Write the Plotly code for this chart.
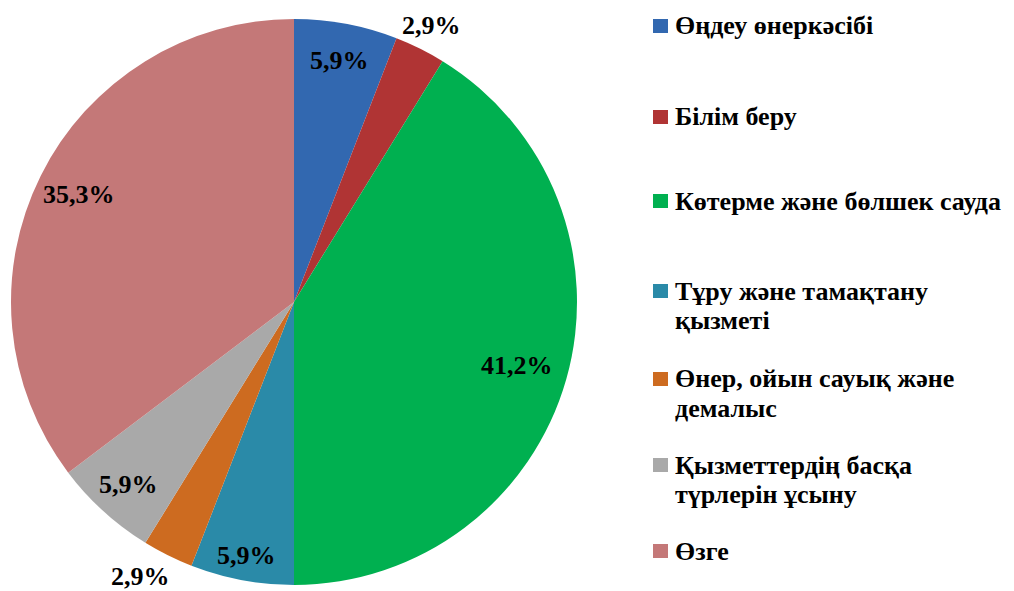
import math
import plotly.graph_objects as go

labels = ["Өңдеу өнеркәсібі", "Білім беру", "Көтерме және бөлшек сауда",
          "Тұру және тамақтану қызметі", "Өнер, ойын сауық және демалыс",
          "Қызметтердің басқа түрлерін ұсыну", "Өзге"]
legend_lines = [["Өңдеу өнеркәсібі"], ["Білім беру"], ["Көтерме және бөлшек сауда"],
                ["Тұру және тамақтану", "қызметі"], ["Өнер, ойын сауық және", "демалыс"],
                ["Қызметтердің басқа", "түрлерін ұсыну"], ["Өзге"]]
values = [5.9, 2.9, 41.2, 5.9, 2.9, 5.9, 35.3]
colors = ["#3268b0", "#b03434", "#00b050", "#2a8aa8", "#cd6b20", "#a9a9a9", "#c47878"]

# style: radial placement of value labels (fraction of radius) and small angular nudges (deg)
label_radius = [0.87, 1.09, 0.82, 0.91, 1.11, 0.87, 0.85]
label_dtheta = [0, 0, 0, 0, 2.7, 0, 0]
# style: legend first-line centres (px from top of page) and line step
legend_y = [26, 117, 201, 291, 379, 465, 551]
LINE_STEP = 29

W, H = 1014, 591
OFF = 8  # page body margin
cx, cy, r = 294 - OFF, 302 - OFF, 283
FONT = "Liberation Serif, Times New Roman, serif"

texts = [f"{v:.1f}%".replace(".", ",") for v in values]

fig = go.Figure(go.Pie(
    labels=labels, values=values, sort=False, direction="clockwise", rotation=0,
    marker=dict(colors=colors, line=dict(width=0)),
    textinfo="none",
    domain=dict(x=[(cx - r) / W, (cx + r) / W], y=[(H - cy - r) / H, (H - cy + r) / H]),
    showlegend=False, hoverinfo="label+percent",
))

total = sum(values)
cum = 0.0
for v, t, k, dt in zip(values, texts, label_radius, label_dtheta):
    theta = 2 * math.pi * (cum + v / 2) / total + math.radians(dt)
    cum += v
    px = cx + k * r * math.sin(theta)
    py = cy - k * r * math.cos(theta)
    fig.add_annotation(xref="paper", yref="paper", x=px / W, y=(H - py) / H,
                       xanchor="center", yanchor="middle", text=f"<b>{t}</b>",
                       showarrow=False,
                       font=dict(family=FONT, size=26, color="black"))

for lines, col, y in zip(legend_lines, colors, legend_y):
    y = y - OFF
    fig.add_shape(type="rect", xref="paper", yref="paper",
                  x0=(653 - OFF) / W, x1=(668 - OFF) / W,
                  y0=(H - y - 7) / H, y1=(H - y + 7) / H,
                  fillcolor=col, line=dict(width=0))
    for i, line in enumerate(lines):
        fig.add_annotation(xref="paper", yref="paper", x=(673 - OFF) / W,
                           y=(H - y - i * LINE_STEP) / H,
                           xanchor="left", yanchor="middle", align="left",
                           text=f"<b>{line}</b>", showarrow=False,
                           font=dict(family=FONT, size=26, color="black"))

fig.update_layout(width=W, height=H, margin=dict(l=0, r=0, t=0, b=0),
                  paper_bgcolor="white", plot_bgcolor="white")
fig.write_html("out.html")
